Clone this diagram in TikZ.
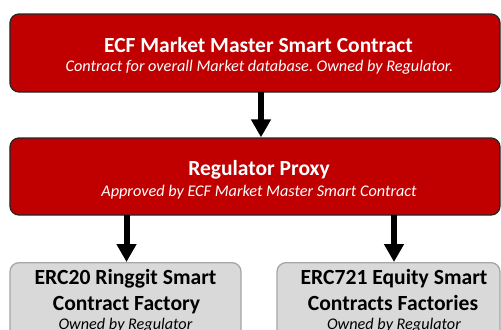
\documentclass[tikz,border=0pt]{standalone}
\usepackage{fontspec}
\setmainfont{Carlito}
\frenchspacing
\usetikzlibrary{arrows.meta}
\definecolor{boxred}{HTML}{C00000}
\definecolor{boxgray}{HTML}{D9D9D9}
\definecolor{grayedge}{HTML}{A6A6A6}
\tikzset{
  redbox/.style={draw=black!85, line width=1.3bp, fill=boxred, rounded corners=9bp, inner sep=0pt},
  graybox/.style={draw=grayedge, line width=1.3bp, fill=boxgray, rounded corners=9bp, inner sep=0pt},
  titletxt/.style={text=white, font=\fontsize{21.6}{25}\selectfont\bfseries, anchor=base, inner sep=0pt},
  subtxt/.style={text=white, font=\fontsize{16.3}{19}\selectfont\itshape, anchor=base, inner sep=0pt},
  graytitle/.style={text=black, font=\fontsize{21.7}{25}\selectfont\bfseries, anchor=base, inner sep=0pt},
  graysub/.style={text=black, font=\fontsize{16.3}{19}\selectfont\itshape, anchor=base, inner sep=0pt},
  bigarrow/.style={line width=6bp, -{Triangle[width=19bp,length=18bp]}}
}
\begin{document}
\begin{tikzpicture}[x=1bp,y=-1bp]
\useasboundingbox[fill=white] (0,0) rectangle (501,329);
\node[redbox, minimum width=490bp, minimum height=78bp] (master) at (255,53) {};
\node[titletxt] (mastert) at (258.5,52) {ECF Market Master Smart Contract};
\node[subtxt] (masters) at (259.5,71) {Contract for overall Market database. Owned by Regulator.};
\node[redbox, minimum width=490bp, minimum height=77bp] (proxy) at (255,176.5) {};
\node[titletxt] (proxyt) at (259,175.5) {Regulator Proxy};
\node[subtxt] (proxys) at (259,196) {Approved by ECF Market Master Smart Contract};
\node[graybox, minimum width=231bp, minimum height=100bp, anchor=north] (erc20) at (125.5,262) {};
\node[graybox, minimum width=223bp, minimum height=100bp, anchor=north] (erc721) at (388.5,262) {};
\node[graytitle] (erc20a) at (125.5,284) {ERC20 Ringgit Smart};
\node[graytitle] (erc20b) at (126.5,310) {Contract Factory};
\node[graysub] (erc20c) at (125.5,329) {Owned by Regulator};
\node[graytitle] (erc721a) at (394,284) {ERC721 Equity Smart};
\node[graytitle] (erc721b) at (393,310) {Contracts Factories};
\node[graysub] (erc721c) at (394,329) {Owned by Regulator};
\coordinate (a1s) at (261,92);
\coordinate (a2s) at (126.5,215);
\coordinate (a3s) at (394,215);
\draw[bigarrow] (a1s) -- (a1s |- proxy.north);
\draw[bigarrow] (a2s) -- (a2s |- erc20.north);
\draw[bigarrow] (a3s) -- (a3s |- erc721.north);
\end{tikzpicture}
\end{document}
